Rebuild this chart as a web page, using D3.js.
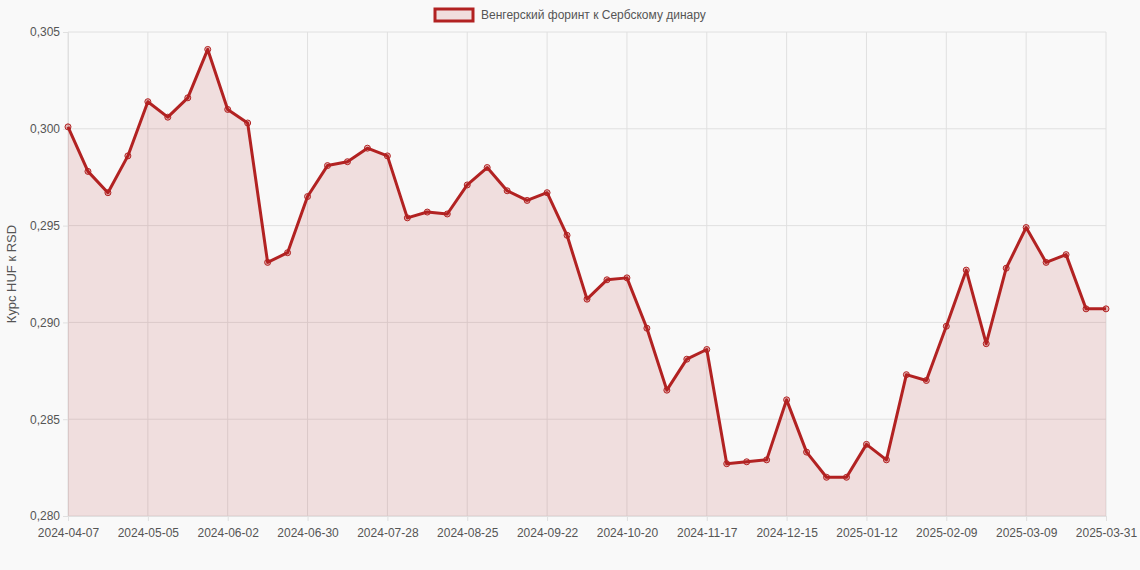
<!DOCTYPE html>
<html><head><meta charset="utf-8">
<script src="https://cdn.jsdelivr.net/npm/d3@7"></script>
<style>body{margin:0;background:#f9f9f9;font-family:"Liberation Sans",Arial,sans-serif}</style>
</head><body><svg id="c" width="1140" height="570"></svg>
<script>
const dates=["2024-04-07","2024-04-14","2024-04-21","2024-04-28","2024-05-05","2024-05-12","2024-05-19","2024-05-26","2024-06-02","2024-06-09","2024-06-16","2024-06-23","2024-06-30","2024-07-07","2024-07-14","2024-07-21","2024-07-28","2024-08-04","2024-08-11","2024-08-18","2024-08-25","2024-09-01","2024-09-08","2024-09-15","2024-09-22","2024-09-29","2024-10-06","2024-10-13","2024-10-20","2024-10-27","2024-11-03","2024-11-10","2024-11-17","2024-11-24","2024-12-01","2024-12-08","2024-12-15","2024-12-22","2024-12-29","2025-01-05","2025-01-12","2025-01-19","2025-01-26","2025-02-02","2025-02-09","2025-02-16","2025-02-23","2025-03-02","2025-03-09","2025-03-16","2025-03-23","2025-03-30","2025-03-31"];
const values=[0.3001,0.2978,0.2967,0.2986,0.3014,0.3006,0.3016,0.3041,0.3010,0.3003,0.2931,0.2936,0.2965,0.2981,0.2983,0.2990,0.2986,0.2954,0.2957,0.2956,0.2971,0.2980,0.2968,0.2963,0.2967,0.2945,0.2912,0.2922,0.2923,0.2897,0.2865,0.2881,0.2886,0.2827,0.2828,0.2829,0.2860,0.2833,0.2820,0.2820,0.2837,0.2829,0.2873,0.2870,0.2898,0.2927,0.2889,0.2928,0.2949,0.2931,0.2935,0.2907,0.2907];
const yTicks=[0.280,0.285,0.290,0.295,0.300,0.305];
const seriesName="Венгерский форинт к Сербскому динару";
const yTitle="Курс HUF к RSD";
const color="#b22222";
const svg=d3.select("#c");
const L=68,R=1106,T=32,B=516;
const x=d3.scalePoint().domain(dates).range([L,R]);
const y=d3.scaleLinear().domain([0.280,0.305]).range([B,T]);
const shown=dates.filter((d,i)=>i%4===0||i===dates.length-1);
svg.append("g").selectAll("line").data(yTicks).join("line").attr("x1",L).attr("x2",R).attr("y1",d=>y(d)).attr("y2",d=>y(d)).attr("stroke","#e0e0e0");
svg.append("g").selectAll("line").data(shown).join("line").attr("x1",d=>x(d)).attr("x2",d=>x(d)).attr("y1",T).attr("y2",B).attr("stroke","#e0e0e0");
const ya=svg.append("g").attr("transform",`translate(${L},0)`).call(d3.axisLeft(y).tickValues(yTicks).tickSize(5).tickFormat(d=>d3.format(".3f")(d).replace(".",",")));
const xa=svg.append("g").attr("transform",`translate(0,${B})`).call(d3.axisBottom(x).tickValues(shown).tickSize(5));
[ya,xa].forEach(a=>{a.select(".domain").attr("stroke","#e0e0e0");a.selectAll("line").attr("stroke","#e0e0e0");a.selectAll("text").attr("fill","#555").attr("font-size",12).attr("font-family","Liberation Sans, Arial");});
xa.selectAll("text").attr("dy","1.1em");
svg.append("path").datum(values).attr("fill","rgba(178,34,34,0.12)").attr("d",d3.area().x((d,i)=>x(dates[i])).y0(B).y1(d=>y(d)));
svg.append("path").datum(values).attr("fill","none").attr("stroke",color).attr("stroke-width",3).attr("stroke-linejoin","round").attr("d",d3.line().x((d,i)=>x(dates[i])).y(d=>y(d)));
svg.append("g").selectAll("circle").data(values).join("circle").attr("cx",(d,i)=>x(dates[i])).attr("cy",d=>y(d)).attr("r",3).attr("fill","rgba(178,34,34,0.3)").attr("stroke",color).attr("stroke-width",1);
svg.append("text").attr("transform",`translate(16,${(T+B)/2}) rotate(-90)`).attr("text-anchor","middle").attr("font-size",13).attr("fill","#555").text(yTitle);
svg.append("rect").attr("x",435).attr("y",9).attr("width",38).attr("height",12).attr("fill","rgba(178,34,34,0.12)").attr("stroke",color).attr("stroke-width",3);
svg.append("text").attr("x",481).attr("y",19).attr("font-size",12).attr("fill","#555").text(seriesName);
</script></body></html>
